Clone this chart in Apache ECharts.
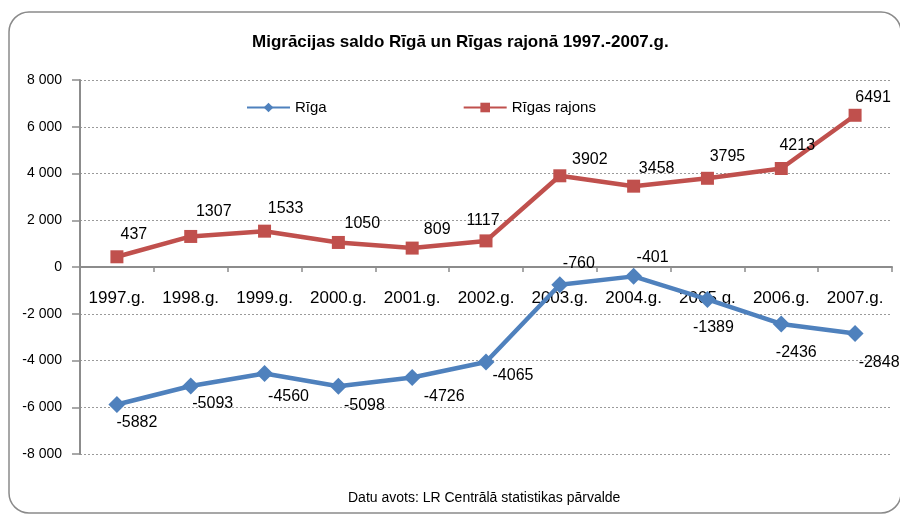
<!DOCTYPE html>
<html>
<head>
<meta charset="utf-8">
<script src="https://cdn.jsdelivr.net/npm/echarts@6/dist/echarts.min.js"></script>
<style>
  html, body { margin: 0; padding: 0; background: #fff; }
  #main { width: 900px; height: 515px; }
</style>
</head>
<body>
<div id="main"></div>
<script>
// gadi
const years = ["1997.g.", "1998.g.", "1999.g.", "2000.g.", "2001.g.", "2002.g.", "2003.g.", "2004.g.", "2005.g.", "2006.g.", "2007.g."];
// migrācijas saldo
const riga = [-5882, -5093, -4560, -5098, -4726, -4065, -760, -401, -1389, -2436, -2848];
const rigasRajons = [437, 1307, 1533, 1050, 809, 1117, 3902, 3458, 3795, 4213, 6491];

// etiķešu nobīde no marķiera (kā oriģinālā)
const rigaLabelShift = [[20, 18], [22, 18], [24, 23], [26, 19], [32, 19], [27, 14], [19, -21], [19, -19], [6, 28], [15, 29], [24, 29]];
const rajonsLabelShift = [[17, -22], [23, -25], [21, -23], [24, -19], [25, -18], [-3, -20], [30, -16], [23, -18], [20, -22], [16, -23], [18, -18]];

const FONT = "Liberation Sans, Arial, sans-serif";

function withLabels(values, shifts) {
  return values.map((v, i) => ({ value: v, label: { offset: shifts[i] } }));
}

const myChart = echarts.init(document.getElementById("main"));
const option = {
  animation: false,
  textStyle: { fontFamily: FONT },
  title: [
    {
      text: "Migrācijas saldo Rīgā un Rīgas rajonā 1997.-2007.g.",
      left: 252,
      top: 34,
      padding: 0,
      textStyle: { fontSize: 17, fontWeight: "bold", color: "#000", fontFamily: FONT },
    },
    {
      text: "Datu avots: LR Centrālā statistikas pārvalde",
      left: 348,
      top: 491,
      padding: 0,
      textStyle: { fontSize: 14, fontWeight: "normal", color: "#000", fontFamily: FONT },
    },
  ],
  graphic: [
    {
      type: "rect",
      silent: true,
      shape: { x: 9, y: 12, width: 892, height: 501, r: 20 },
      style: { fill: "none", stroke: "#8a8a8a", lineWidth: 1.5 },
    },
  ],
  legend: {
    left: 246,
    top: 100,
    padding: 0,
    itemWidth: 43,
    itemHeight: 12,
    itemGap: 136,
    lineStyle: { width: 2 },
    textStyle: { fontSize: 15, color: "#000", fontFamily: FONT },
    data: ["Rīga", "Rīgas rajons"],
  },
  grid: {
    left: 80,
    right: 8,
    top: 80,
    bottom: 61,
  },
  xAxis: {
    type: "category",
    data: years,
    boundaryGap: true,
    position: "bottom",
    offset: -187, // ass pie nulles līnijas, kopā ar etiķetēm
    axisLine: { onZero: false, lineStyle: { color: "#8c8c8c", width: 2 } },
    axisTick: { show: true, length: 5, interval: 0, lineStyle: { color: "#8c8c8c", width: 1.5 } },
    axisLabel: { interval: 0, margin: 23, fontSize: 17, color: "#000", fontFamily: FONT },
  },
  yAxis: {
    type: "value",
    min: -8000,
    max: 8000,
    interval: 2000,
    axisLine: { show: true, lineStyle: { color: "#8c8c8c", width: 2 } },
    axisTick: { show: true, length: 8, lineStyle: { color: "#8c8c8c", width: 1.5 } },
    axisLabel: {
      margin: 18,
      fontSize: 14,
      color: "#000",
      fontFamily: FONT,
      formatter: v => {
        const s = Math.abs(v) >= 1000 ? String(Math.abs(v)).replace(/(\d)(?=(\d{3})+$)/g, "$1 ") : String(Math.abs(v));
        return (v < 0 ? "-" : "") + s;
      },
    },
    splitLine: { show: true, lineStyle: { color: "#9a9a9a", type: [2, 2], width: 1 } },
  },
  series: [
    {
      name: "Rīga",
      type: "line",
      data: withLabels(riga, rigaLabelShift),
      symbol: "diamond",
      symbolSize: 17,
      color: "#4f81bd",
      lineStyle: { width: 4.5, color: "#4f81bd" },
      itemStyle: { color: "#4f81bd" },
      label: { show: true, position: "inside", fontSize: 16, color: "#000", fontFamily: FONT },
      z: 3,
    },
    {
      name: "Rīgas rajons",
      type: "line",
      data: withLabels(rigasRajons, rajonsLabelShift),
      symbol: "rect",
      symbolSize: 13,
      color: "#c0504d",
      lineStyle: { width: 4.5, color: "#c0504d" },
      itemStyle: { color: "#c0504d" },
      label: { show: true, position: "inside", fontSize: 16, color: "#000", fontFamily: FONT },
      z: 3,
    },
  ],
};
myChart.setOption(option);
</script>
</body>
</html>
